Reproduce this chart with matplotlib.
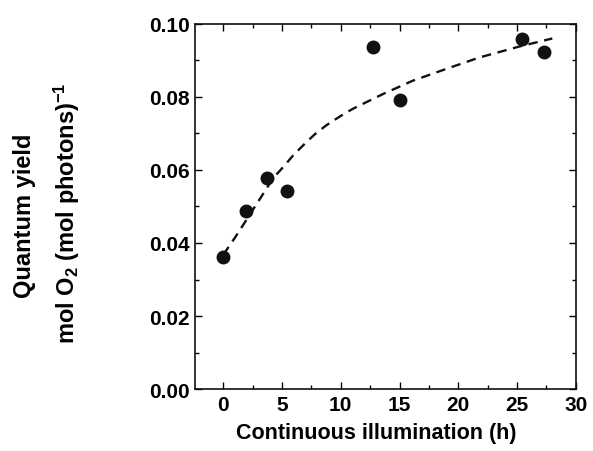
import matplotlib
matplotlib.use("Agg")
import matplotlib.pyplot as plt
from matplotlib.ticker import MultipleLocator

# measured data
hours = [0.0, 1.9, 3.7, 5.4, 12.7, 15.0, 25.4, 27.3]
yield_vals = [0.0362, 0.0487, 0.0579, 0.0541, 0.0936, 0.0792, 0.0958, 0.0922]

# dashed fit curve
fit_x = [0.0, 1.0, 2.0, 3.0, 4.25, 5.1, 5.95, 6.97, 7.8, 8.8, 9.9, 11.0, 12.2, 13.6,
         16.1, 19.0, 21.8, 25.2, 28.0]
fit_y = [0.0368, 0.0415, 0.0465, 0.0515, 0.0578, 0.0608, 0.0640, 0.0673, 0.0698, 0.0723,
         0.0746, 0.0767, 0.0786, 0.0808, 0.0844, 0.0877, 0.0908, 0.0938, 0.0960]

xticks = [0, 5, 10, 15, 20, 25, 30]
yticks = [0.00, 0.02, 0.04, 0.06, 0.08, 0.10]

plt.rcParams['font.family'] = ['Liberation Sans', 'DejaVu Sans']
plt.rcParams['font.weight'] = 'bold'
plt.rcParams['mathtext.fontset'] = 'custom'
plt.rcParams['mathtext.rm'] = 'Liberation Sans:bold'
plt.rcParams['mathtext.it'] = 'Liberation Sans:bold'
plt.rcParams['mathtext.bf'] = 'Liberation Sans:bold'

fig = plt.figure(figsize=(5.93, 4.52), dpi=100)
ax = fig.add_axes([0.329, 0.137, 0.642, 0.808])

ax.plot(fit_x, fit_y, color='#111111', lw=1.7, ls=(0, (4, 2.8)))
ax.plot(hours, yield_vals, 'o', color='#111111', ms=9)

ax.set_xlim(-2.4, 30)
ax.set_ylim(0, 0.10)
ax.set_xticks(xticks)
ax.set_yticks(yticks)
ax.set_yticklabels([f"{v:.2f}" for v in yticks])
ax.xaxis.set_minor_locator(MultipleLocator(2.5))
ax.yaxis.set_minor_locator(MultipleLocator(0.01))
ax.tick_params(which='both', direction='in', top=True, right=True, width=1.0)
ax.tick_params(which='major', length=5, labelsize=15, pad=4)
ax.tick_params(which='minor', length=3)
for lab in ax.get_xticklabels() + ax.get_yticklabels():
    lab.set_fontweight('bold')
for s in ax.spines.values():
    s.set_linewidth(1.2)
    s.set_color('#111111')

ax.set_xlabel('Continuous illumination (h)', fontsize=15.5, fontweight='bold')
ax.xaxis.set_label_coords(0.475, -0.09)

fig.text(25/593, 1 - 216/452, 'Quantum yield', rotation=90, ha='center', va='center',
         fontsize=17, fontweight='bold')
fig.text(67/593, 1 - 213/452, r'mol O$_2$ (mol photons)$^{-1}$', rotation=90, ha='center', va='center',
         fontsize=17, fontweight='bold')

fig.savefig('out.png', dpi=100)
